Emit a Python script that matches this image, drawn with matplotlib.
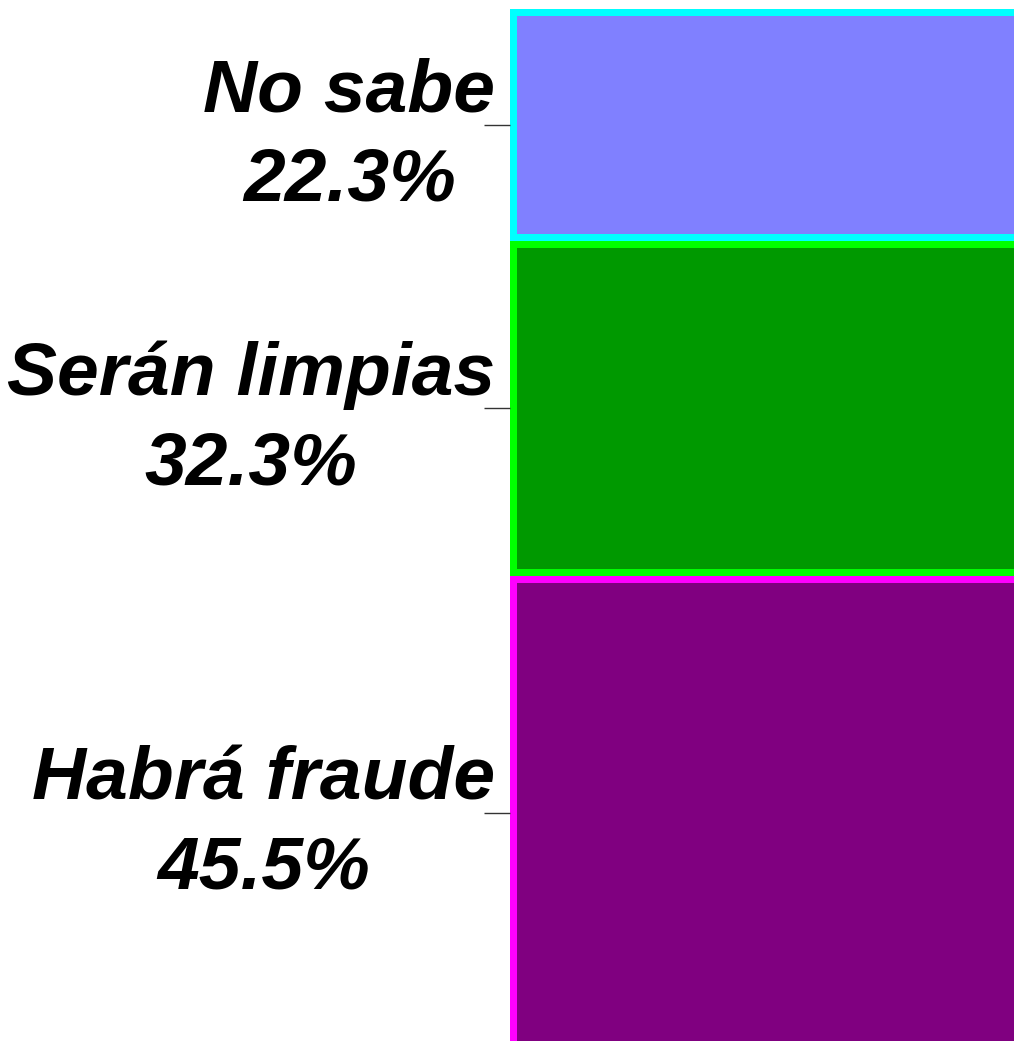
import matplotlib
matplotlib.use("Agg")
import matplotlib.pyplot as plt
from matplotlib.transforms import ScaledTranslation

categories = ["Habrá fraude", "Serán limpias", "No sabe"]
values = [45.5, 32.3, 22.3]
face_colors = ["#800080", "#009900", "#8080FF"]
edge_colors = ["#FF00FF", "#00FF00", "#00FFFF"]

W, H = 1014, 1041
fig = plt.figure(figsize=(W / 100, H / 100), dpi=100)
total = sum(values)
ax_left, ax_right = 510, 1100
ax_top, ax_bot = 9, 1049
ax = fig.add_axes([ax_left / W, (H - ax_bot) / H, (ax_right - ax_left) / W, (ax_bot - ax_top) / H])

bottom = 0
centers = []
labels = []
for cat, v, fc, ec in zip(categories, values, face_colors, edge_colors):
    bars = ax.bar(0.5, v, width=1.0, bottom=bottom, color=fc, edgecolor=ec,
                  linewidth=14 * 72 / 100)
    for p in bars:
        p.set_clip_path(p)
    centers.append(bottom + v / 2)
    labels.append(f"{cat}\n{v}%")
    bottom += v

ax.set_xlim(0, 1)
ax.set_ylim(0, total)
ax.set_xticks([])
ax.set_yticks(centers)
ax.set_yticklabels(labels, fontfamily="Liberation Sans", fontweight="bold",
                   fontstyle="italic", fontsize=54, multialignment="center",
                   linespacing=1.38)
ax.tick_params(axis="y", length=26 * 72 / 100, width=1, color="#333333", pad=-8)
offset = ScaledTranslation(0, 6 / 100, fig.dpi_scale_trans)
for lab in ax.get_yticklabels():
    lab.set_transform(lab.get_transform() + offset)
for s in ax.spines.values():
    s.set_visible(False)

fig.savefig("out.png", dpi=100)
